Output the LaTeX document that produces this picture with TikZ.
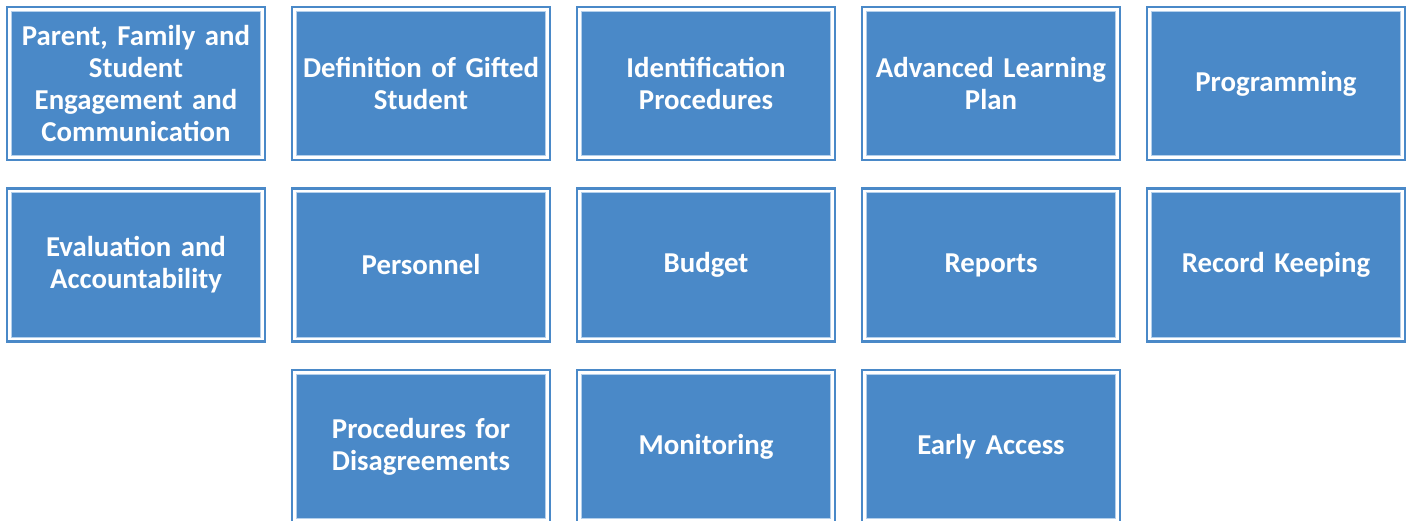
\documentclass[tikz,border=0pt]{standalone}
\usepackage{fontspec}
\setmainfont{Carlito}

\definecolor{boxblue}{HTML}{4A89C8}
\definecolor{edgeblue}{HTML}{B4D0EC}

\tikzset{
  topic/.style={rectangle, fill=boxblue, draw=edgeblue, line width=1pt,
    minimum width=249pt, minimum height=144pt, text width=246pt,
    align=center, inner sep=0pt, text=white,
    font=\bfseries\fontsize{28.8}{32}\selectfont},
  frame/.style={draw=boxblue, line width=2.5pt}
}

\begin{document}
\begin{tikzpicture}[x=1pt,y=1pt]
    \useasboundingbox (0,0) rectangle (1407,520);

    % top row
    \node[topic] (parent) at (136,436.5) {Parent, Family and\\Student\\Engagement and\\Communication};
    \node[topic] (definition) at (421,436.5) {Definition of Gifted\\Student};
    \node[topic] (identification) at (706,436.5) {Identification\\Procedures};
    \node[topic] (alp) at (991,436.5) {Advanced Learning\\Plan};
    \node[topic] (programming) at (1276,436.5) {Programming};

    % middle row
    \node[topic] (evaluation) at (136,255) {Evaluation and\\Accountability};
    \node[topic] (personnel) at (421,255) {Personnel};
    \node[topic] (budget) at (706,255) {Budget};
    \node[topic] (reports) at (991,255) {Reports};
    \node[topic] (records) at (1276,255) {Record Keeping};

    % bottom row, runs off the page edge
    \node[topic] (disagreements) at (421,73.5) {Procedures for\\Disagreements};
    \node[topic] (monitoring) at (706,73.5) {Monitoring};
    \node[topic] (early) at (991,73.5) {Early Access};

    % outer frame round every box
    \foreach \n in {parent,definition,identification,alp,programming,
                    evaluation,personnel,budget,reports,records,
                    disagreements,monitoring,early}
      \draw[frame] ([shift={(-4,4)}]\n.north west) rectangle ([shift={(4,-4)}]\n.south east);
\end{tikzpicture}
\end{document}
